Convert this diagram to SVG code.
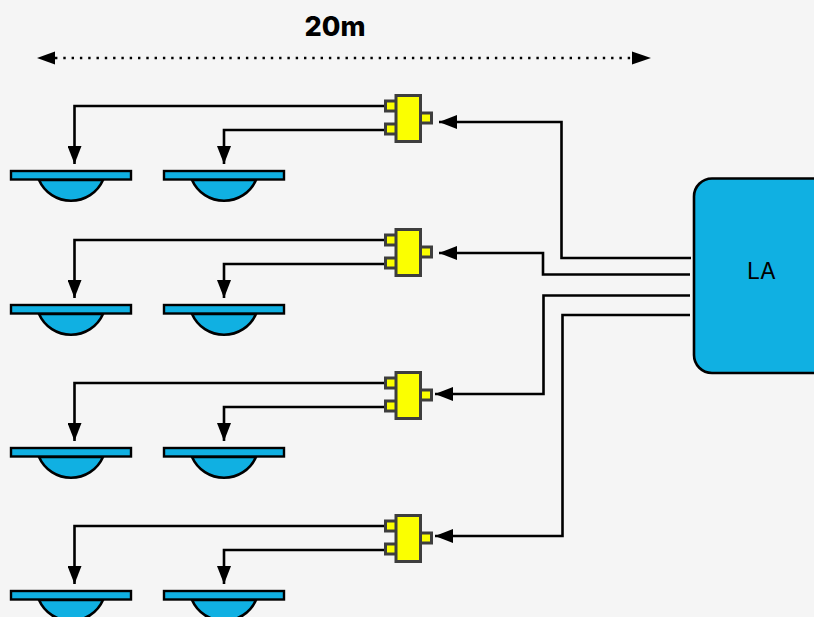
<svg xmlns="http://www.w3.org/2000/svg" width="814" height="617" viewBox="0 0 814 617">
<style>
.w{fill:none;stroke:#000;stroke-width:2.6}
.d{fill:none;stroke:#000;stroke-width:2.4;stroke-dasharray:2.4 5.9}
.bar,.dome,.la{fill:#10b0e2;stroke:#000}
.bar{stroke-width:2.4}
.dome{stroke-width:2.6}
.la{stroke-width:2.6}
.sw{fill:#fbff00;stroke:#3e3e3e;stroke-width:3}
.t{font-family:"Inter","Liberation Sans",sans-serif;fill:#000}
</style>
<defs>
<g id="lamp">
<path class="dome" d="M39 179A35 35 0 0 0 103 179Z" transform="translate(0 1)"/>
<rect class="bar" x="11" y="171" width="120" height="8.500"/>
</g>
<g id="switch">
<rect class="sw" x="385.500" y="101" width="11" height="10"/>
<rect class="sw" x="385.500" y="124" width="11" height="10"/>
<rect class="sw" x="420.500" y="113" width="11" height="10"/>
<rect class="sw" x="396" y="95.500" width="24.500" height="46"/>
</g>
<marker id="a" markerUnits="userSpaceOnUse" markerWidth="20" markerHeight="14" refX="18" refY="7" orient="auto"><path d="M0 0L18 7L0 14Z"/></marker>
</defs>
<rect width="814" height="617" fill="#f5f5f5"/>
<g id="connectors">
<path class="d" d="M55 58H633"/>
<path d="M37 58L55 51.500V64.500Z"/><path d="M651 58L632 51.500V64.500Z"/>
<path class="w" marker-end="url(#a)" d="M385 106H74.500V164"/>
<path class="w" marker-end="url(#a)" d="M385 130H224V164"/>
<path class="w" marker-end="url(#a)" d="M385 240H74.500V298"/>
<path class="w" marker-end="url(#a)" d="M385 264H224V298"/>
<path class="w" marker-end="url(#a)" d="M385 383H74.500V441"/>
<path class="w" marker-end="url(#a)" d="M385 407H224V441"/>
<path class="w" marker-end="url(#a)" d="M385 526H74.500V584"/>
<path class="w" marker-end="url(#a)" d="M385 550H224V584"/>
<path class="w" marker-end="url(#a)" d="M691 258H561.500V122H439"/>
<path class="w" marker-end="url(#a)" d="M690 274.500H543V253H439"/>
<path class="w" marker-end="url(#a)" d="M690 295.500H543.500V394H435"/>
<path class="w" marker-end="url(#a)" d="M690 315H562.500V536H435"/>
</g>
<g id="dim-label"><text class="t" x="335" y="36" font-size="27" font-weight="800" text-anchor="middle">20m</text></g>
<g id="lamp1a"><use href="#lamp"/></g>
<g id="lamp1b"><use href="#lamp" x="153"/></g>
<g id="lamp2a"><use href="#lamp" y="134"/></g>
<g id="lamp2b"><use href="#lamp" x="153" y="134"/></g>
<g id="lamp3a"><use href="#lamp" y="277"/></g>
<g id="lamp3b"><use href="#lamp" x="153" y="277"/></g>
<g id="lamp4a"><use href="#lamp" y="420"/></g>
<g id="lamp4b"><use href="#lamp" x="153" y="420"/></g>
<g id="switch1"><use href="#switch"/></g>
<g id="switch2"><use href="#switch" y="134"/></g>
<g id="switch3"><use href="#switch" y="277"/></g>
<g id="switch4"><use href="#switch" y="420"/></g>
<g id="la"><rect class="la" x="694" y="178.500" width="140" height="194.500" rx="18"/>
<text class="t" x="761.500" y="279" font-size="23" text-anchor="middle">LA</text></g>
</svg>
